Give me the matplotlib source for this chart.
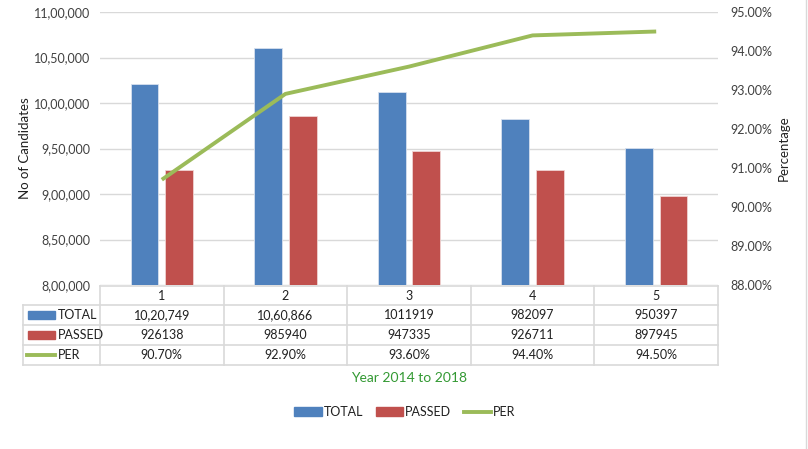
import matplotlib
matplotlib.use("Agg")
import matplotlib.pyplot as plt
from matplotlib.lines import Line2D
from matplotlib.patches import Patch, Rectangle
from matplotlib.transforms import blended_transform_factory
from matplotlib.ticker import FuncFormatter

plt.rcParams["font.family"] = ["Lato", "DejaVu Sans"]

# data
CATEGORIES = ["1", "2", "3", "4", "5"]
TOTAL = [1020749, 1060866, 1011919, 982097, 950397]
PASSED = [926138, 985940, 947335, 926711, 897945]
PER = [90.70, 92.90, 93.60, 94.40, 94.50]
TOTAL_TEXT = ["10,20,749", "10,60,866", "1011919", "982097", "950397"]
PASSED_TEXT = ["926138", "985940", "947335", "926711", "897945"]
PER_TEXT = ["90.70%", "92.90%", "93.60%", "94.40%", "94.50%"]
SERIES = ["TOTAL", "PASSED", "PER"]

BLUE = "#4F81BD"
RED = "#C0504D"
GREEN = "#9BBB59"
GRID = "#D9D9D9"
TXT = "#404040"
W, H = 808, 449
FS = 9


def indian(v, _pos=None):
    s = str(int(round(v)))
    if len(s) <= 3:
        return s
    head, tail = s[:-3], s[-3:]
    parts = []
    while len(head) > 2:
        parts.insert(0, head[-2:])
        head = head[:-2]
    if head:
        parts.insert(0, head)
    return ",".join(parts + [tail])


def fy(px):
    return 1 - px / H


fig = plt.figure(figsize=(W / 100, H / 100), dpi=100)
ax = fig.add_axes([100 / W, fy(285), 618 / W, 273 / H])
ax2 = ax.twinx()

x = list(range(len(CATEGORIES)))
bw = 0.225
off = 0.14
ax.bar([i - off for i in x], TOTAL, width=bw, color=BLUE, edgecolor="#D6E0EE", linewidth=0.6, zorder=2)
ax.bar([i + off for i in x], PASSED, width=bw, color=RED, edgecolor="#EFD3D2", linewidth=0.6, zorder=2)
ax2.plot(x, PER, color=GREEN, lw=2.8, solid_capstyle="butt", zorder=3)

ax.set_xlim(-0.5, len(CATEGORIES) - 0.5)
ax.set_ylim(800000, 1100000)
ax.set_yticks(range(800000, 1100001, 50000))
ax.yaxis.set_major_formatter(FuncFormatter(indian))
ax.grid(axis="y", color=GRID, lw=1, zorder=0)
ax.set_axisbelow(True)
ax.set_xticks([])

ax2.set_ylim(88, 95)
ax2.set_yticks(range(88, 96))
ax2.yaxis.set_major_formatter(FuncFormatter(lambda v, p: f"{v:.2f}%"))

for a in (ax, ax2):
    for s in a.spines.values():
        s.set_visible(False)
    a.tick_params(length=0, labelsize=FS, colors=TXT)
ax.tick_params(axis="y", pad=7)
ax2.tick_params(axis="y", pad=9)

ax.set_ylabel("No of Candidates", fontsize=9.5, color="#202020", labelpad=2)
ax2.set_ylabel("Percentage", fontsize=9.5, color="#202020", labelpad=4)

# data table below the plot
tr = blended_transform_factory(ax.transData, fig.transFigure)
rows_y = [286, 305, 325, 345, 365]
x_left = -0.5 - 77 / 123.6
x_right = len(CATEGORIES) - 0.5
edges = [i - 0.5 for i in range(len(CATEGORIES) + 1)]
lc = dict(color=GRID, lw=1.2, transform=tr, clip_on=False)
fig.add_artist(Line2D([edges[0], x_right], [fy(rows_y[0])] * 2, **lc))
for ry in rows_y[1:]:
    fig.add_artist(Line2D([x_left, x_right], [fy(ry)] * 2, **lc))
fig.add_artist(Line2D([x_left, x_left], [fy(rows_y[1]), fy(rows_y[-1])], **lc))
for e in edges:
    fig.add_artist(Line2D([e, e], [fy(rows_y[0]), fy(rows_y[-1])], **lc))

tk = dict(transform=tr, ha="center", va="center", fontsize=FS, color="#202020")
for i, c in enumerate(CATEGORIES):
    fig.text(i, fy((rows_y[0] + rows_y[1]) / 2), c, **tk)
for r, vals in enumerate([TOTAL_TEXT, PASSED_TEXT, PER_TEXT]):
    yc = fy((rows_y[r + 1] + rows_y[r + 2]) / 2)
    for i, v in enumerate(vals):
        fig.text(i, yc, v, **tk)

# legend keys inside the table
for r, (name, col) in enumerate(zip(SERIES, [BLUE, RED, GREEN])):
    yc = (rows_y[r + 1] + rows_y[r + 2]) / 2
    if name == "PER":
        fig.add_artist(Line2D([27 / W, 55 / W], [fy(yc)] * 2, color=col, lw=2.8))
    else:
        fig.add_artist(Rectangle((28 / W, fy(yc + 4)), 27 / W, 8 / H, color=col,
                                 transform=fig.transFigure))
    fig.text(58 / W, fy(yc), name, ha="left", va="center", fontsize=FS, color="#202020")

fig.text(409 / W, fy(378), "Year 2014 to 2018", ha="center", va="center",
         fontsize=10, color="#339933")

handles = [Patch(color=BLUE), Patch(color=RED), Line2D([], [], color=GREEN, lw=2.8)]
fig.legend(handles, SERIES, loc="center", bbox_to_anchor=(405 / W, fy(412)), ncol=3,
           frameon=False, fontsize=FS, handlelength=2.2, handleheight=0.7,
           handletextpad=0.15, columnspacing=1.0, labelcolor="#202020")

fig.add_artist(Line2D([806 / W, 806 / W], [0, 1], color=GRID, lw=1))

fig.savefig("out.png", dpi=100)
